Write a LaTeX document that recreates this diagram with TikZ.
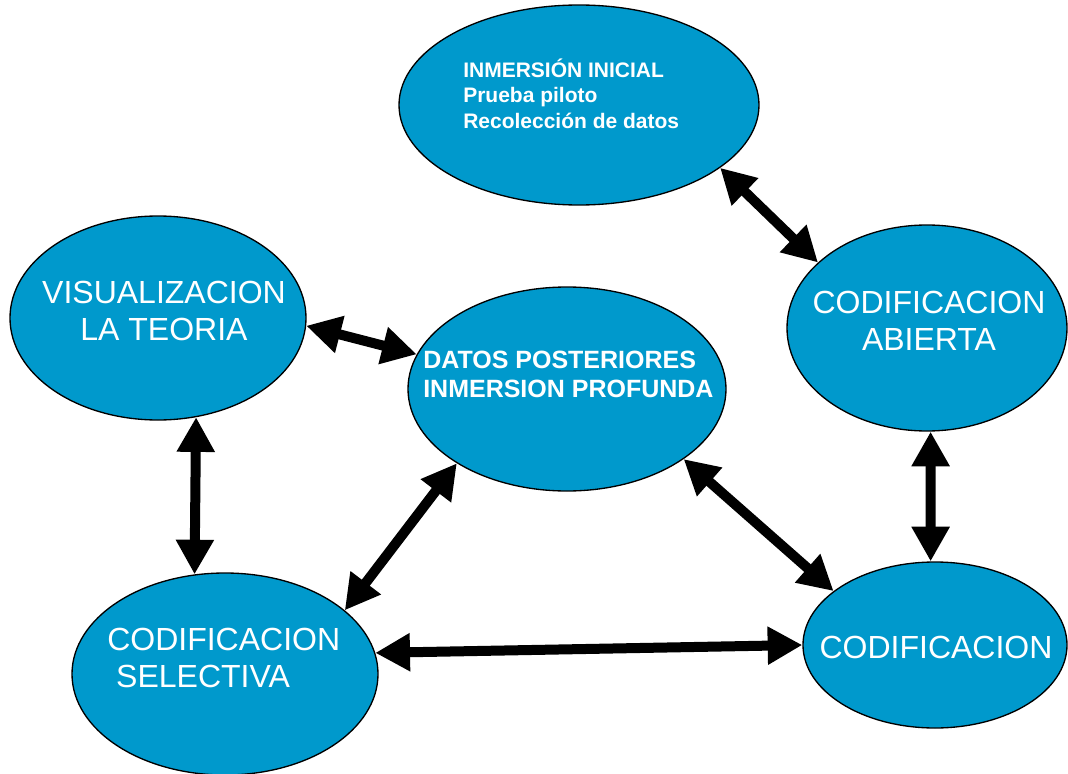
\documentclass[tikz,border=0pt]{standalone}
\usepackage{fontspec}
\setmainfont{Liberation Sans}
\usetikzlibrary{shapes,arrows.meta,positioning}
\definecolor{burbuja}{RGB}{0,153,204}

\begin{document}
\begin{tikzpicture}[x=0.75pt,y=-0.75pt,
	fase/.style={ellipse,draw,fill=burbuja,line width=1pt,inner sep=0pt},
	rotulo/.style={text=white,inner sep=0pt,font=\fontsize{24}{27.75}\selectfont},
	flecha/.style={line width=7.5pt,{Triangle[length=26pt,width=27pt]}-{Triangle[length=26pt,width=27pt]}}]
		\useasboundingbox (0,0) rectangle (1068,774);

		\node[fase,minimum width=270pt,minimum height=150pt] (ini) at (579,105) {};
		\node[fase,minimum width=222pt,minimum height=153pt] (vis) at (158,318) {};
		\node[fase,minimum width=238.5pt,minimum height=153pt] (dat) at (567,389) {};
		\node[fase,minimum width=210pt,minimum height=154.5pt] (abi) at (927,328) {};
		\node[fase,minimum width=229.5pt,minimum height=151.5pt] (sel) at (225,674) {};
		\node[fase,minimum width=198pt,minimum height=124.5pt] (cod) at (935,645) {};

		\node[rotulo,anchor=base west,align=left,font=\bfseries\fontsize{15.75}{19.1}\selectfont] (tini) at (463,128) {INMERSIÓN INICIAL\\Prueba piloto\\Recolección de datos};
		\node[rotulo,anchor=base,align=center] (tvis) at (164,340) {VISUALIZACION\\LA TEORIA};
		\node[rotulo,anchor=base west,align=left,font=\bfseries\fontsize{18.75}{21.75}\selectfont] (tdat) at (423,397) {DATOS POSTERIORES\\INMERSION PROFUNDA};
		\node[rotulo,anchor=base,align=center] (tabi) at (929,350) {CODIFICACION\\ABIERTA};
		\node[rotulo,anchor=base west,align=left] (tsel) at (107,687) {CODIFICACION\\\hspace{6.7pt}SELECTIVA};
		\node[rotulo,anchor=base] (tcod) at (936,658) {CODIFICACION};

		\draw[flecha] (ini.-24.2) -- (abi.149.9);
		\draw[flecha] (vis.-3.8) -- (dat.167.9);
		\draw[flecha] (vis.-69.2) -- (sel.107.4);
		\draw[flecha] (dat.214.1) -- (sel.28.5);
		\draw[flecha] (dat.-31.9) -- (cod.152);
		\draw[flecha] (abi.-88.4) -- (cod.93.4);
		\draw[flecha] (sel.8.3) -- (cod.180.9);
	\end{tikzpicture}
\end{document}
